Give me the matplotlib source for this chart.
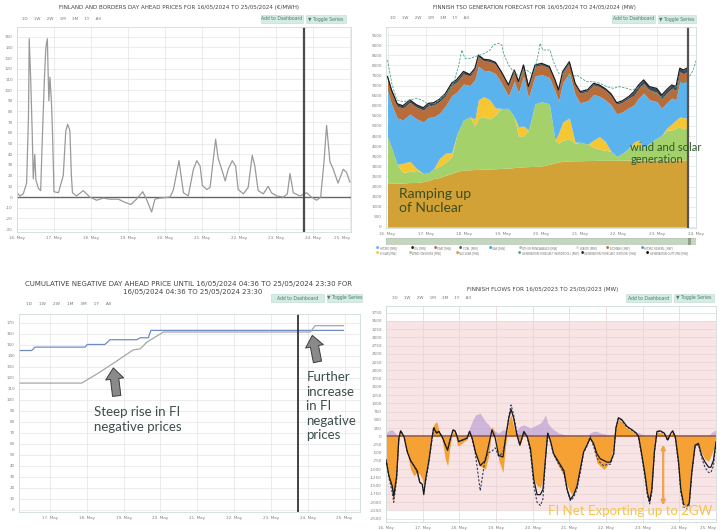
import matplotlib
matplotlib.use("Agg")
import matplotlib.pyplot as plt
from matplotlib.patches import Rectangle

W, H = 720, 530

day_names = ["16. May", "17. May", "18. May", "19. May", "20. May",
             "21. May", "22. May", "23. May", "24. May", "25. May"]
range_buttons = "1D     1W     2W     1M     3M     1Y     All"

# ---------- top left: day ahead prices (x = days after 16 May 00:00, EUR/MWh)
price_days = [0.0, 0.08, 0.17, 0.26, 0.31, 0.33, 0.37, 0.41, 0.44, 0.48, 0.51, 0.58,
              0.64, 0.69, 0.74, 0.78, 0.82, 0.86, 0.89, 0.93, 0.96, 1.0, 1.12, 1.25,
              1.32, 1.37, 1.43, 1.47, 1.5, 1.61, 1.79, 1.97, 2.15, 2.33, 2.51, 2.74,
              2.92, 3.08, 3.23, 3.4, 3.5, 3.64, 3.73, 3.86, 4.14, 4.23, 4.38, 4.5,
              4.63, 4.77, 4.86, 4.95, 5.01, 5.13, 5.22, 5.31, 5.37, 5.44, 5.56, 5.63,
              5.71, 5.82, 5.91, 5.98, 6.12, 6.25, 6.36, 6.43, 6.52, 6.66, 6.79, 6.88,
              7.02, 7.2, 7.31, 7.38, 7.47, 7.65, 7.83, 7.96, 8.1, 8.21, 8.3, 8.37,
              8.46, 8.55, 8.68, 8.82, 8.91, 9.0]
price_vals = [4, 1, 3, 13, 75, 148, 110, 62, 17, 40, 16, 8,
              6, 60, 110, 140, 148, 90, 112, 90, 60, 5, 4, 20,
              62, 68, 62, 20, 4, 1, 6, 0, -3, -1, -2, -2,
              -5, -7, -2, 5, -2, -14, -2, -1, 0, 7, 34, 4,
              1, 26, 34, 29, 11, 7, 9, 36, 54, 36, 23, 15,
              26, 34, 29, 7, 3, 9, 39, 29, 6, 3, 10, 4,
              1, 0, 3, 22, 4, 1, 4, 0, -3, 0, 33, 67,
              33, 26, 13, 26, 23, 14]
price_now = 7.76

# ---------- top right: generation forecast, MW (cumulative layer tops)
gen_days = [0, 0.1, 0.25, 0.4, 0.58, 0.75, 0.93, 1.06, 1.2, 1.35, 1.5, 1.67, 1.8, 1.97,
            2.14, 2.27, 2.36, 2.5, 2.65, 2.8, 2.95, 3.14, 3.29, 3.4, 3.53, 3.66, 3.83,
            4.0, 4.2, 4.35, 4.44, 4.55, 4.72, 4.87, 5.0, 5.2, 5.35, 5.5, 5.65, 5.8, 5.95,
            6.1, 6.26, 6.4, 6.52, 6.65, 6.8, 6.99, 7.12, 7.25, 7.38, 7.49, 7.59, 7.68, 7.77]
nuclear = [2160, 2160, 2170, 2180, 2200, 2200, 2250, 2300, 2400, 2450, 2550, 2650, 2750, 2820,
           2830, 2850, 2850, 2860, 2870, 2880, 2900, 2920, 2940, 2960, 2980, 2990, 3000,
           3020, 3100, 3180, 3220, 3250, 3270, 3280, 3280, 3290, 3290, 3300, 3300, 3300, 3300,
           3310, 3310, 3310, 3310, 3320, 3320, 3320, 3320, 3320, 3320, 3320, 3320, 3320, 3320]
wind_top = [4450, 3950, 3100, 2700, 2750, 2800, 2650, 2680, 2900, 3000, 3200, 3500, 4600, 5300,
            5450, 5000, 5400, 5450, 5350, 5550, 5870, 5870, 5460, 4500, 4500, 4800, 6100,
            6200, 6100, 4300, 4150, 4300, 4350, 4150, 4200, 4100, 3950, 3850, 3800, 3750, 3500,
            3650, 3900, 4050, 4050, 3950, 4150, 4400, 4550, 4800, 4800, 4900, 4950, 4850, 4950]
solar_top = [4450, 3950, 3100, 3150, 3250, 2900, 2650, 2680, 2900, 3400, 3650, 3700, 4600, 5300,
             5450, 5350, 6300, 6450, 6300, 5900, 5870, 5870, 5460, 4970, 5000, 4800, 6100,
             6200, 6100, 4300, 4640, 5200, 5400, 4200, 4200, 4100, 4300, 4470, 4250, 3750, 3500,
             3650, 3900, 4200, 4300, 3950, 4150, 4400, 4550, 4900, 5100, 5300, 5450, 5400, 5400]
hydro_top = [6740, 6100, 5400, 5300, 5590, 5350, 5200, 5420, 5450, 5630, 5980, 6510, 6680, 7080,
             7000, 7310, 7960, 7750, 7720, 7600, 7150, 6480, 7220, 6650, 7470, 6400, 7470,
             7550, 7400, 6730, 6230, 7150, 7630, 6560, 6150, 6250, 6560, 6480, 6300, 6050, 5600,
             5700, 5900, 6050, 6380, 6630, 6300, 6210, 5880, 6150, 6380, 6300, 7210, 7120, 7210]
chp_top = [7320, 6680, 5980, 5880, 6170, 5930, 5780, 6000, 6030, 6210, 6480, 7010, 7180, 7580,
           7470, 7780, 8430, 8220, 8190, 8070, 7620, 6950, 7690, 7120, 7940, 6870, 7940,
           8020, 7870, 7200, 6700, 7620, 8100, 7030, 6620, 6720, 7030, 6950, 6770, 6520, 6070,
           6170, 6370, 6520, 6850, 7100, 6770, 6680, 6350, 6620, 6850, 6770, 7680, 7590, 7680]
gen_total = [7440, 6800, 6100, 6000, 6290, 6050, 5900, 6120, 6150, 6330, 6600, 7130, 7300, 7700,
             7550, 7860, 8510, 8300, 8270, 8150, 7700, 7030, 7770, 7200, 8020, 6950, 8020,
             8100, 7950, 7280, 6780, 7700, 8180, 7110, 6700, 6800, 7110, 7030, 6850, 6600, 6150,
             6250, 6450, 6700, 7030, 7280, 6950, 6860, 6530, 6800, 7030, 6950, 7860, 7770, 7860]
fcst_days = [0.0, 0.11, 0.24, 0.41, 0.58, 0.76, 0.89, 1.02, 1.15, 1.32, 1.54, 1.71, 1.84, 1.93,
             2.01, 2.14, 2.27, 2.4, 2.53, 2.66, 2.75, 2.88, 2.97, 3.01, 3.14, 3.27, 3.44, 3.61,
             3.79, 3.92, 3.96, 4.03, 4.13, 4.22, 4.31, 4.44, 4.61, 4.74, 4.91, 5.04, 5.17, 5.35,
             5.52, 5.69, 5.87, 6.0, 6.22, 6.34, 6.47, 6.6, 6.82, 7.08, 7.21, 7.38, 7.55, 7.68,
             7.81, 7.94, 8.03]
fcst_vals = [8270, 7110, 6290, 6200, 6290, 6370, 6290, 6120, 5960, 6290, 6620, 7110, 7940, 8760,
             8350, 8350, 8430, 8510, 8600, 8760, 9010, 9090, 9010, 8600, 8020, 7690, 7440, 7770,
             7520, 8600, 9090, 8760, 8760, 8760, 8180, 7610, 7610, 7360, 7520, 7360, 7190, 7190,
             7110, 6950, 6860, 6950, 6860, 6780, 6860, 6950, 6780, 6450, 6450, 6780, 7030, 7190,
             7360, 7770, 8350]
gen_now = 7.81

# ---------- bottom left: cumulative negative prices
cum_blue_days = [0.157, 0.5, 0.59, 1.95, 2.01, 2.49, 2.63, 3.36, 3.45, 3.67, 3.74, 8.97]
cum_blue = [144.8, 144.8, 147.9, 147.9, 150.3, 150.3, 154.6, 154.6, 156.4, 156.4, 163.1, 163.1]
cum_grey_days = [0.157, 1.86, 2.27, 2.72, 3.26, 3.45, 3.63, 4.08, 8.07, 8.2, 8.97]
cum_grey = [115.2, 115.2, 123.4, 133.2, 145.4, 146.3, 152.4, 161.6, 161.6, 167.4, 167.4]
cum_now = 7.73

# ---------- bottom right: Finnish flows, MW
flow_days = [0.01, 0.08, 0.17, 0.21, 0.29, 0.35, 0.40, 0.49, 0.58, 0.67,
             0.76, 0.85, 0.92, 0.99, 1.03, 1.08, 1.17, 1.26, 1.30, 1.38,
             1.44, 1.53, 1.62, 1.68, 1.76, 1.83, 1.89, 1.94, 1.98, 2.08,
             2.21, 2.28, 2.35, 2.44, 2.57, 2.71, 2.80, 2.89, 2.98, 3.07,
             3.19, 3.26, 3.35, 3.41, 3.48, 3.57, 3.65, 3.76, 3.85, 3.94,
             4.03, 4.12, 4.21, 4.28, 4.35, 4.41, 4.48, 4.57, 4.71, 4.85,
             4.94, 5.03, 5.12, 5.21, 5.30, 5.39, 5.48, 5.57, 5.66, 5.75,
             5.84, 5.94, 6.03, 6.12, 6.21, 6.27, 6.34, 6.43, 6.57, 6.71,
             6.83, 6.89, 6.98, 7.07, 7.13, 7.19, 7.25, 7.32, 7.39, 7.48,
             7.59, 7.68, 7.77, 7.82, 7.89, 7.98, 8.04, 8.12, 8.21, 8.27,
             8.34, 8.43, 8.52, 8.61, 8.70, 8.80, 8.86, 8.93, 9.00]
flow_line = [-785, -1200, -1510, -1820, -1200, -60, 165, -10, -475, -735,
             -890, -1040, -1400, -1455, -1770, -1300, -735, -10, 250, 95,
             145, -10, -270, -425, -60, 195, 145, -10, -165, -115,
             -60, 145, -60, -475, -890, -735, -270, 195, -60, -580,
             -630, -60, 560, 815, 560, 40, -270, 145, -10, -370,
             -1300, -1770, -1770, -1610, -680, 95, -115, -525, -785, -1040,
             -1610, -1920, -1770, -1510, -990, -475, -270, -60, -215, -525,
             -680, -735, -785, -785, -525, 250, 560, 505, 300, 195,
             95, -10, -580, -1200, -1715, -1975, -1610, -475, 145, 165,
             95, -115, 95, 165, -10, -785, -1610, -2075, -2130, -2025,
             -1095, -270, -215, -580, -785, -940, -940, -735, -165]
flow_dashed = [-700, -1250, -1700, -2000, -1300, -100, 170, 0, -450, -750,
               -900, -1100, -1350, -1500, -1650, -1400, -800, -50, 280, 100,
               150, -20, -250, -400, -50, 200, 160, 0, -150, -120,
               -50, 150, -80, -550, -1650, -650, -500, -450, -350, -600,
               -500, -100, 600, 950, 650, 100, -250, 100, 0, -500,
               -1500, -2000, -2100, -1900, -700, 80, -150, -550, -850, -1100,
               -1650, -1950, -1850, -1600, -1100, -500, -300, 0, -300, -650,
               -800, -900, -850, -850, -550, 250, 550, 480, 280, 180,
               80, -50, -650, -1300, -1800, -2050, -1700, -500, 130, 150,
               80, -130, 80, 150, -50, -850, -1700, -2150, -2200, -2100,
               -1150, -300, -250, -650, -950, -1100, -1100, -900, -200]
flow_orange = [-800, -1300, -1700, -1950, -1300, -100, 150, -50, -500, -1000,
               -1200, -1100, -1150, -1300, -1500, -1100, -600, 100, 350, 450,
               200, -100, -700, -900, -200, 150, 100, -250, -300, -200,
               -100, 100, -100, -600, -900, -1000, -600, 300, 100, -700,
               -1100, -300, 500, 650, 300, 0, -300, 100, -50, -500,
               -1300, -1500, -1550, -1300, -600, 50, -200, -600, -900, -1200,
               -1500, -1700, -1800, -1400, -900, -400, -200, -100, -300, -800,
               -900, -1000, -900, -700, -300, 300, 500, 450, 250, 150,
               50, -100, -700, -1300, -1800, -2000, -1600, -400, 100, 120,
               50, -100, 50, 120, -50, -900, -1700, -2050, -2100, -2000,
               -1000, -300, -250, -500, -700, -750, -600, -400, 0]
flow_purple = [100, 180, 200, 150, 50, 0, 0, 0, 0, 0,
               0, 0, 0, 0, 0, 0, 0, 0, 100, 0,
               0, 0, 0, 0, 0, 0, 0, 0, 0, 0,
               50, 250, 450, 650, 700, 450, 350, 200, 150, 100,
               200, 200, 0, 0, 0, 200, 300, 350, 300, 250,
               300, 350, 400, 500, 650, 400, 300, 200, 100, 50,
               0, 0, 0, 0, 0, 0, 0, 100, 150, 150,
               100, 80, 50, 0, 0, 0, 0, 0, 0, 0,
               100, 120, 50, 0, 0, 0, 0, 0, 0, 0,
               0, 0, 0, 0, 0, 0, 0, 0, 0, 0,
               0, 0, 0, 0, 0, 0, 100, 150, 200]

fig = plt.figure(figsize=(W / 100, H / 100), dpi=100)
fig.patch.set_facecolor("white")


def box(x0, y0, x1, y1):
    return fig.add_axes([x0 / W, 1 - y1 / H, (x1 - x0) / W, (y1 - y0) / H])


def ftext(x, y, s, **kw):
    fig.text(x / W, 1 - y / H, s, **kw)


def button(x0, x1, y, s):
    fig.add_artist(Rectangle((x0 / W, 1 - (y + 4) / H), (x1 - x0) / W, 8 / H,
                             transform=fig.transFigure, fc="#d5ebe4", ec="#bfdad2", lw=0.4))
    ftext((x0 + x1) / 2, y, s, ha="center", va="center", fontsize=3.3, color="#4d7d72")


def style(ax, xlim, ylim, xticks, xlabels, yticks, grid="#e4e4e4", last_right=False):
    ax.set_xlim(*xlim)
    ax.set_ylim(*ylim)
    ax.set_xticks(xticks)
    ax.set_xticklabels(xlabels)
    ax.set_yticks(yticks)
    ax.set_yticklabels([str(v) for v in yticks])
    ax.tick_params(labelsize=3.0, colors="#808080", length=0, pad=3)
    ax.grid(True, color=grid, lw=0.5)
    ax.set_axisbelow(True)
    for s in ax.spines.values():
        s.set_color("#d0dcdc")
        s.set_linewidth(0.6)
    if last_right:
        ax.get_xticklabels()[-1].set_ha("right")


# ---------- panel 1
ftext(179, 8, "FINLAND AND BORDERS DAY AHEAD PRICES FOR 16/05/2024 TO 25/05/2024 (€/MWH)",
      ha="center", va="center", fontsize=4.1, color="#444444")
ftext(22, 19, range_buttons, va="center", fontsize=3.0, color="#777777")
button(261, 303, 19, "Add to Dashboard")
button(306, 346, 19, "▼ Toggle Series")

ax1 = box(17, 27, 351, 232)
style(ax1, (0, 9.03), (-32.7, 159), range(10), day_names, list(range(-30, 151, 10)),
      last_right=True)
ax1.axhline(0, color="#666666", lw=1.0)
ax1.plot(price_days, price_vals, color="#9a9a9a", lw=0.9)
ax1.axvline(price_now, color="#4a4a4a", lw=1.6)

# ---------- panel 2
ftext(534, 7, "FINNISH TSO GENERATION FORECAST FOR 16/05/2024 TO 24/05/2024 (MW)",
      ha="center", va="center", fontsize=3.9, color="#444444")
ftext(390, 18, range_buttons, va="center", fontsize=3.0, color="#777777")
button(612, 655, 19, "Add to Dashboard")
button(658, 696, 19, "▼ Toggle Series")

ax2 = box(386, 27, 696, 228)
style(ax2, (-0.04, 8.01), (-50, 9900), range(9), day_names[:9], list(range(0, 9501, 500)))
ax2.fill_between(gen_days, 0, nuclear, color="#d3a237", lw=0)
ax2.fill_between(gen_days, nuclear, wind_top, color="#a5d16b", lw=0)
ax2.fill_between(gen_days, wind_top, solar_top, color="#f6c733", lw=0)
ax2.fill_between(gen_days, solar_top, hydro_top, color="#5ab3ec", lw=0)
ax2.fill_between(gen_days, hydro_top, chp_top, color="#b76c3c", lw=0)
ax2.fill_between(gen_days, chp_top, gen_total, color="#3e4957", lw=0)
ax2.plot(gen_days, gen_total, color="#1e1e1e", lw=0.9)
ax2.plot(fcst_days, fcst_vals, color="#4fa489", lw=0.6, dashes=(3, 1.5))
ax2.axvline(gen_now, color="#555555", lw=1.6)
ax2.text(0.3, 1920, "Ramping up\nof Nuclear", fontsize=10, family="Lato",
         color="#3b4d1f", va="top", linespacing=1.2)
ax2.text(6.3, 4200, "wind and solar\ngeneration", fontsize=8, family="Lato",
         color="#2c5a2c", va="top", linespacing=1.15)

nav = box(386, 238, 696, 245)
nav.set_xlim(0, 1)
nav.set_ylim(0, 1)
nav.axis("off")
nav.add_patch(Rectangle((0, 0), 1, 1, fc="#c6d5c0", ec="#9fb09a", lw=0.4))
nav.add_patch(Rectangle((0.975, 0), 0.01, 1, fc="#8fa08a", ec="none"))

legend_rows = [
    [("HYDRO [MW]", "#5ab3ec", 377), ("OIL [MW]", "#222222", 412), ("PEAT [MW]", "#b06a6a", 435),
     ("COAL [MW]", "#555555", 460), ("GAS [MW]", "#3d9fd0", 490), ("OTHER RENEWABLES [MW]", "#bbbbbb", 520),
     ("WASTE [MW]", "#dddddd", 577), ("BIOMASS [MW]", "#b76c3c", 607), ("HYDRO RESERV. [MW]", "#6b8bb0", 642)],
    [("SOLAR [MW]", "#f6c733", 377), ("WIND ONSHORE [MW]", "#a5d16b", 410), ("NUCLEAR [MW]", "#d3a237", 457),
     ("GENERATION FORECAST (NORDPOOL) [MW]", "#4fa489", 519),
     ("GENERATION FORECAST (ENTSOE) [MW]", "#333333", 582), ("GENERATION OUTTURN [MW]", "#111111", 647)],
]
for row, yy in zip(legend_rows, (248, 253)):
    for name, col, xx in row:
        ftext(xx, yy, "●", ha="center", va="center", fontsize=2.6, color=col)
        ftext(xx + 2.5, yy, name, va="center", fontsize=1.9, color="#777777")

# ---------- panel 3
ftext(25, 284, "CUMULATIVE NEGATIVE DAY AHEAD PRICE UNTIL 16/05/2024 04:36 TO 25/05/2024 23:30 FOR",
      va="center", fontsize=5.0, color="#444444")
ftext(193, 292, "16/05/2024 04:36 TO 25/05/2024 23:30", ha="center", va="center",
      fontsize=5.0, color="#444444")
ftext(26, 304, range_buttons, va="center", fontsize=3.2, color="#777777")
button(271, 324, 298, "Add to Dashboard")
button(327, 362, 298, "▼ Toggle Series")

ax3 = box(19, 314, 360, 512)
style(ax3, (0.157, 9.42), (-2, 178), range(1, 10), day_names[1:], list(range(0, 171, 10)))
ax3.plot(cum_blue_days, cum_blue, color="#6f8cc6", lw=0.9)
ax3.plot(cum_grey_days, cum_grey, color="#a6a6a6", lw=0.9)
ax3.axvline(cum_now, color="#333333", lw=1.3)
arrow = dict(arrowstyle="simple,head_length=0.8,head_width=1.3,tail_width=0.6",
             fc="#8a8a8a", ec="#3c3c3c", lw=0.7, mutation_scale=10)
ax3.annotate("", xy=(2.71, 131.5), xytext=(2.82, 101), arrowprops=arrow)
ax3.annotate("", xy=(8.11, 161), xytext=(8.28, 132), arrowprops=arrow)
ax3.text(2.2, 94, "Steep rise in FI\nnegative prices", fontsize=9.5, family="Lato",
         color="#3f4d4d", va="top", linespacing=1.25)
ax3.text(7.96, 126, "Further\nincrease\nin FI\nnegative\nprices", fontsize=9.5, family="Lato",
         color="#3f4d4d", va="top", linespacing=1.25)

# ---------- panel 4
ftext(543, 289, "FINNISH FLOWS FOR 16/05/2023 TO 25/05/2023 (MW)",
      ha="center", va="center", fontsize=4.1, color="#444444")
ftext(392, 298, range_buttons, va="center", fontsize=3.0, color="#777777")
button(626, 671, 298, "Add to Dashboard")
button(674, 714, 298, "▼ Toggle Series")

ax4 = box(386, 306, 716, 522)
style(ax4, (0.01, 9.0), (-2600, 3950), range(10), day_names, list(range(-2500, 3751, 250)),
      grid="#e6d3d3", last_right=True)
ax4.axhspan(-2250, 3500, color="#f8e4e4", lw=0, zorder=0.2)
ax4.fill_between(flow_days, flow_orange, 0, color="#f5a133", lw=0, zorder=1)
ax4.fill_between(flow_days, flow_purple, 0, color="#b596d2", alpha=0.6, lw=0, zorder=1.1)
ax4.axhline(0, color="#9d5a30", lw=1.2, zorder=2)
ax4.plot(flow_days, flow_dashed, color="#343a66", lw=0.8, dashes=(2, 1.5), zorder=3)
ax4.plot(flow_days, flow_line, color="#1a1a1a", lw=0.9, zorder=3)
ax4.annotate("", xy=(7.56, -2180), xytext=(7.56, -170),
             arrowprops=dict(arrowstyle="<|-|>", color="#f0a34a", lw=1.6, mutation_scale=6),
             zorder=4)
ax4.text(4.42, -2270, "FI Net Exporting up to 2GW", fontsize=9.5, family="Lato",
         color="#f3c64a", va="center", zorder=5)

fig.savefig("out.png", dpi=100)
